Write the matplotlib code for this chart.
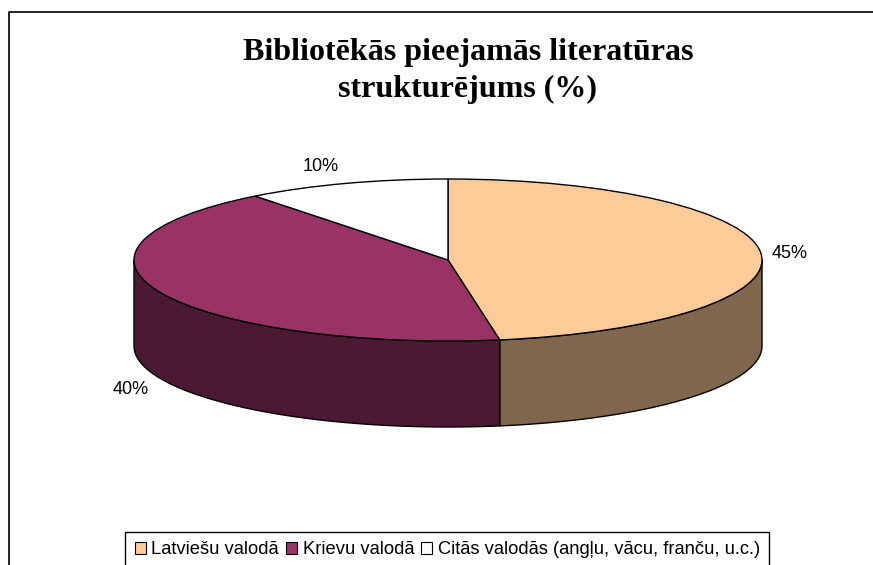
import numpy as np
from matplotlib import pyplot as plt
from matplotlib.lines import Line2D
from matplotlib.patches import Patch

W, H = 873, 565

title_lines = ["Bibliotēkās pieejamās literatūras", "strukturējums (%)"]
categories = ["Latviešu valodā", "Krievu valodā", "Citās valodās (angļu, vācu, franču, u.c.)"]
values = [45, 40, 10]
top_colors = ["#FFCC99", "#993366", "#FFFFFF"]
side_colors = ["#7F664C", "#4C1933", "#7F7F7F"]
label_pos = [(790, 253), (131, 390), (321, 167)]

plt.rcParams['font.family'] = ['Liberation Sans', 'DejaVu Sans']


def fx(x):
    return x / W


def fy(y):
    return 1 - y / H


fig = plt.figure(figsize=(W / 100, H / 100), dpi=100)

# ellipse box in pixels, the wall hangs below it
left, right, top, bottom, depth_px = 134, 762, 179, 341, 86
ax = fig.add_axes([fx(left), fy(bottom + depth_px), (right - left) / W, (bottom + depth_px - top) / H])
depth = depth_px / ((bottom - top) / 2)

edges = np.concatenate([[0], np.cumsum(values)]) / sum(values) * 360

# walls, only the front half of the disc shows
for i in range(len(values)):
    a = max(edges[i], 90)
    b = min(edges[i + 1], 270)
    if a >= b:
        continue
    t = np.radians(np.linspace(a, b, 100))
    xs = np.sin(t)
    ys = np.cos(t)
    ax.fill(np.concatenate([xs, xs[::-1]]), np.concatenate([ys, ys[::-1] - depth]),
            facecolor=side_colors[i], edgecolor="black", linewidth=1.0, clip_on=False)

ax.pie(values, colors=top_colors, startangle=90, counterclock=False, radius=1,
       wedgeprops={"edgecolor": "black", "linewidth": 1.0, "clip_on": False})
ax.set_aspect("auto")
ax.set_xlim(-1, 1)
ax.set_ylim(-1 - depth, 1)

for v, (x, y) in zip(values, label_pos):
    fig.text(fx(x), fy(y), "{}%".format(v), fontsize=13, color="black", ha="center", va="center")

# title
fig.text(fx(468), fy(60), title_lines[0], family=["Liberation Serif"], fontweight="bold",
         fontsize=23, ha="center", va="baseline")
fig.text(fx(468), fy(96.5), title_lines[1], family=["Liberation Serif"], fontweight="bold",
         fontsize=23, ha="center", va="baseline")

# chart border, the picture is cut off on the right and at the bottom
fig.add_artist(Line2D([fx(8.5), fx(8.5), 1], [0, fy(11.5), fy(11.5)], color="#222222", linewidth=1.4))

handles = [Patch(facecolor=c, edgecolor="black", linewidth=0.8) for c in top_colors]
leg = fig.legend(handles, categories, ncol=3, loc="upper left", bbox_to_anchor=(fx(125.5), fy(532)),
                 bbox_transform=fig.transFigure, fontsize=13.2, frameon=True, fancybox=False,
                 edgecolor="black", framealpha=1, borderaxespad=0, borderpad=0.5,
                 handlelength=0.6, handleheight=0.6, handletextpad=0.3, columnspacing=0.4)
leg.get_frame().set_linewidth(1.0)

fig.savefig("out.png", dpi=100)
